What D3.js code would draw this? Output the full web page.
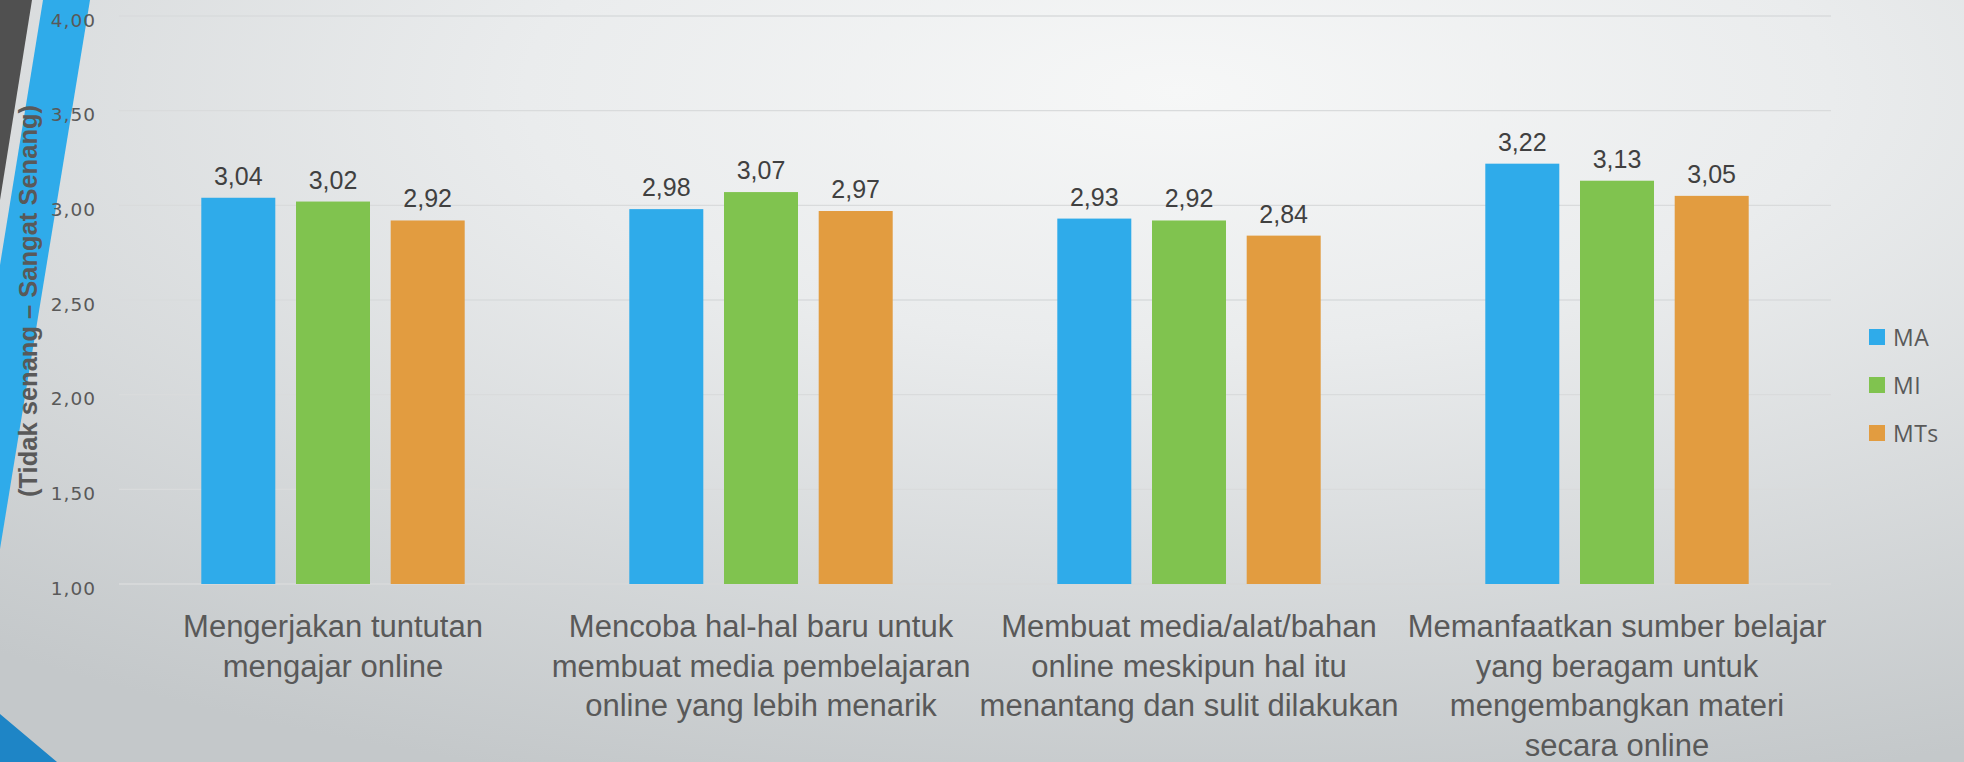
<!DOCTYPE html>
<html>
<head>
<meta charset="utf-8">
<script src="https://cdnjs.cloudflare.com/ajax/libs/d3/7.8.5/d3.min.js"></script>
<style>
  html, body { margin: 0; padding: 0; background: #e6e8e9; }
  svg { display: block; }
</style>
</head>
<body>
<svg id="chart" width="1964" height="762"></svg>
<script>
// ---- data ----
const categories = [
  "Mengerjakan tuntutan\nmengajar online",
  "Mencoba hal-hal baru untuk\nmembuat media pembelajaran\nonline yang lebih menarik",
  "Membuat media/alat/bahan\nonline meskipun hal itu\nmenantang dan sulit dilakukan",
  "Memanfaatkan sumber belajar\nyang beragam untuk\nmengembangkan materi\nsecara online"
];
const seriesNames = ["MA", "MI", "MTs"];
const valuesMA  = [3.04, 2.98, 2.93, 3.22];
const valuesMI  = [3.02, 3.07, 2.92, 3.13];
const valuesMTs = [2.92, 2.97, 2.84, 3.05];
const yTicks = [1.0, 1.5, 2.0, 2.5, 3.0, 3.5, 4.0];
const yTitle = "(Tidak senang – Sangat Senang)";
const colors = ["#2FABEA", "#80C34F", "#E29C40"];

const seriesValues = [valuesMA, valuesMI, valuesMTs];

// ---- setup ----
const W = 1964, H = 762;
const svg = d3.select("#chart");
const plot = { left: 119, right: 1831, top: 16, bottom: 584 };

const locale = d3.formatLocale({ decimal: ",", thousands: ".", grouping: [3], currency: ["", ""] });
const fmt = locale.format(".2f");

// background
const defs = svg.append("defs");
const grad = defs.append("radialGradient").attr("id", "bg")
  .attr("cx", "0.6").attr("cy", "0.12").attr("r", "0.95");
grad.append("stop").attr("offset", "0").attr("stop-color", "#f6f7f7");
grad.append("stop").attr("offset", "0.35").attr("stop-color", "#eaeced");
grad.append("stop").attr("offset", "1").attr("stop-color", "#c4c8ca");
svg.append("rect").attr("width", W).attr("height", H).attr("fill", "url(#bg)");

// decorative shapes
svg.append("polygon").attr("points", "0,0 32,0 0,200").attr("fill", "#505050");
svg.append("polygon").attr("points", "43,0 90,0 0,549 0,265").attr("fill", "#2FABEA");
svg.append("polygon").attr("points", "0,714 57,762 0,762").attr("fill", "#1E85C6");

// scales
const x0 = d3.scaleBand().domain(categories).range([plot.left, plot.right]).paddingInner(0).paddingOuter(0);
const barStep = 94.7;
const x1 = d3.scaleBand().domain(seriesNames)
  .range([-barStep * 1.5, barStep * 1.5]).paddingInner(0.2186).paddingOuter(0.1093);
const y = d3.scaleLinear().domain([1, 4]).range([plot.bottom, plot.top]);

// gridlines
svg.append("g").selectAll("line").data(yTicks).join("line")
  .attr("x1", plot.left).attr("x2", plot.right)
  .attr("y1", d => y(d)).attr("y2", d => y(d))
  .attr("stroke", d => d === 1 ? "#d6d8d9" : "#d9dbdc")
  .attr("stroke-width", d => d === 1 ? 2.2 : 1.3);

// y axis
const yAxis = d3.axisLeft(y).tickValues(yTicks).tickFormat(fmt).tickSize(0).tickPadding(0);
const yg = svg.append("g").attr("transform", "translate(96,0)").call(yAxis);
yg.select(".domain").remove();
yg.selectAll("text")
  .attr("fill", "#595959")
  .attr("font-family", "'DejaVu Sans', sans-serif")
  .attr("font-size", 18.5)
  .attr("letter-spacing", 1)
  .attr("dy", "0.55em");

// y title
svg.append("text")
  .attr("transform", "translate(37,301) rotate(-90)")
  .attr("text-anchor", "middle")
  .attr("fill", "#595959")
  .attr("font-family", "'Liberation Sans Narrow', 'Liberation Sans', sans-serif")
  .attr("font-weight", "bold")
  .attr("font-size", 25.5)
  .text(yTitle);

// bars
const groups = svg.append("g").selectAll("g").data(categories).join("g")
  .attr("transform", d => `translate(${x0(d) + x0.bandwidth() / 2},0)`);

groups.selectAll("rect")
  .data((d, i) => seriesNames.map((s, j) => ({ s, j, v: seriesValues[j][i] })))
  .join("rect")
  .attr("x", d => x1(d.s))
  .attr("width", x1.bandwidth())
  .attr("y", d => y(d.v))
  .attr("height", d => y(1) - y(d.v))
  .attr("fill", d => colors[d.j]);

groups.selectAll("text.val")
  .data((d, i) => seriesNames.map((s, j) => ({ s, j, v: seriesValues[j][i] })))
  .join("text")
  .attr("class", "val")
  .attr("x", d => x1(d.s) + x1.bandwidth() / 2)
  .attr("y", d => y(d.v) - 13)
  .attr("text-anchor", "middle")
  .attr("fill", "#404040")
  .attr("font-family", "'Liberation Sans Narrow', 'Liberation Sans', sans-serif")
  .attr("font-size", 25)
  .text(d => fmt(d.v));

// x axis labels
const xAxis = d3.axisBottom(x0).tickSize(0).tickPadding(0).tickFormat(() => "");
const xg = svg.append("g").attr("transform", `translate(0,${plot.bottom})`).call(xAxis);
xg.select(".domain").remove();
xg.selectAll(".tick").each(function (d) {
  const t = d3.select(this).append("text")
    .attr("text-anchor", "middle")
    .attr("fill", "#595959")
    .attr("font-family", "'Liberation Sans Narrow', 'Liberation Sans', sans-serif")
    .attr("font-size", 31);
  d.split("\n").forEach((line, k) => {
    t.append("tspan").attr("x", 0).attr("y", 53 + k * 39.5).text(line);
  });
});

// legend
const legend = svg.append("g").selectAll("g").data(seriesNames).join("g")
  .attr("transform", (d, i) => `translate(1869,${329 + i * 48})`);
legend.append("rect").attr("width", 16).attr("height", 16).attr("fill", (d, i) => colors[i]);
legend.append("text").attr("x", 24).attr("y", 16.5)
  .attr("fill", "#595959")
  .attr("font-family", "'Open Sans', sans-serif")
  .attr("font-size", 23)
  .attr("letter-spacing", 0.5)
  .text(d => d);
</script>
</body>
</html>
